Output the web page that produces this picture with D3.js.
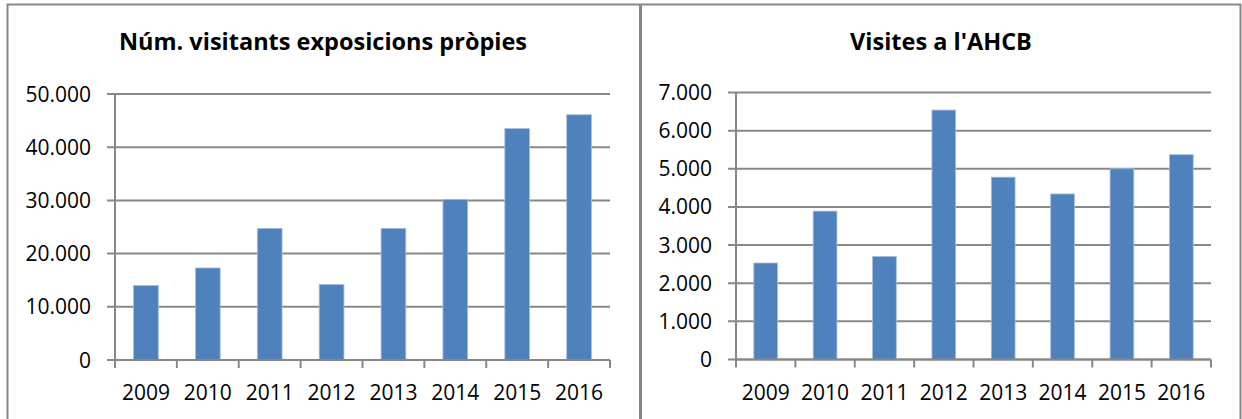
<!DOCTYPE html>
<html>
<head>
<meta charset="utf-8">
<script src="https://cdn.jsdelivr.net/npm/d3@7"></script>
<style>
  html, body { margin: 0; padding: 0; background: #fff; }
  svg { display: block; }
  text { font-family: "Open Sans", "Liberation Sans", sans-serif; fill: #000; }
</style>
</head>
<body>
<svg id="chart" width="1242" height="419"></svg>
<script>
// =====================================================
// Data
// =====================================================
const years           = ["2009", "2010", "2011", "2012", "2013", "2014", "2015", "2016"];
const visitantsExpo   = [14000, 17300, 24750, 14200, 24750, 30200, 43500, 46100];
const visitesAHCB     = [2530, 3890, 2700, 6540, 4780, 4340, 5000, 5370];
const ticksExpo       = [0, 10000, 20000, 30000, 40000, 50000];
const ticksAHCB       = [0, 1000, 2000, 3000, 4000, 5000, 6000, 7000];
const titleExpo       = "Núm. visitants exposicions pròpies";
const titleAHCB       = "Visites a l'AHCB";

const locale  = d3.formatLocale({ decimal: ",", thousands: ".", grouping: [3], currency: ["", "€"] });
const fmt     = locale.format(",d");
const gray    = "#878787";
const barBlue = "#4f81bd";

const svg = d3.select("#chart");

// ----------
// Frames
// =================
svg.append("path")
  .attr("d", "M7.5,419 V4.5 H1240.5 V419")
  .attr("fill", "none")
  .attr("stroke", gray)
  .attr("stroke-width", 2);
svg.append("line")
  .attr("x1", 640.5).attr("x2", 640.5).attr("y1", 4).attr("y2", 419)
  .attr("stroke", gray).attr("stroke-width", 3);

// =====================================================
// Draw one chart
// =====================================================
function drawChart(opt) {
  const { left, right, top, bottom, values, ticks, title, titleX } = opt;

  const x = d3.scaleBand()
    .domain(years)
    .range([left, right])
    .paddingInner(0.6)
    .paddingOuter(0.3);

  const y = d3.scaleLinear()
    .domain([0, d3.max(ticks)])
    .range([bottom, top]);

  const g = svg.append("g");

  // gridlines
  g.selectAll(".grid")
    .data(ticks)
    .enter()
    .append("line")
    .attr("x1", left - 8)
    .attr("x2", right)
    .attr("y1", d => y(d))
    .attr("y2", d => y(d))
    .attr("stroke", gray)
    .attr("stroke-width", 2);

  // y tick labels
  g.selectAll(".ylab")
    .data(ticks)
    .enter()
    .append("text")
    .attr("x", left - 24)
    .attr("y", d => y(d))
    .attr("dy", "0.36em")
    .attr("text-anchor", "end")
    .style("font-size", "21px")
    .text(d => fmt(d));

  // bars
  g.selectAll(".bar")
    .data(values)
    .enter()
    .append("rect")
    .attr("x", (d, i) => x(years[i]))
    .attr("width", x.bandwidth())
    .attr("y", d => y(d))
    .attr("height", d => y(0) - y(d))
    .attr("fill", barBlue)
    .attr("stroke", "#a7bfde")
    .attr("stroke-width", 0.8);

  // y axis line
  g.append("line")
    .attr("x1", left).attr("x2", left)
    .attr("y1", top).attr("y2", bottom)
    .attr("stroke", gray).attr("stroke-width", 2);

  // x axis line + ticks at band edges
  g.append("line")
    .attr("x1", left).attr("x2", right)
    .attr("y1", bottom).attr("y2", bottom)
    .attr("stroke", gray).attr("stroke-width", 2);
  const step = (right - left) / years.length;
  g.selectAll(".xtick")
    .data(d3.range(years.length + 1))
    .enter()
    .append("line")
    .attr("x1", i => left + i * step)
    .attr("x2", i => left + i * step)
    .attr("y1", bottom)
    .attr("y2", bottom + 8)
    .attr("stroke", gray).attr("stroke-width", 2);

  // x labels
  g.selectAll(".xlab")
    .data(years)
    .enter()
    .append("text")
    .attr("x", d => x(d) + x.bandwidth() / 2)
    .attr("y", bottom + 40)
    .attr("text-anchor", "middle")
    .style("font-size", "21px")
    .text(d => d);

  // title
  g.append("text")
    .attr("x", titleX)
    .attr("y", 50)
    .attr("text-anchor", "middle")
    .style("font-size", "23.5px")
    .style("font-weight", "bold")
    .text(title);
}

drawChart({ left: 115, right: 610, top: 94, bottom: 360, values: visitantsExpo, ticks: ticksExpo, title: titleExpo, titleX: 323 });
drawChart({ left: 736, right: 1211, top: 92.5, bottom: 359.5, values: visitesAHCB, ticks: ticksAHCB, title: titleAHCB, titleX: 941 });
</script>
</body>
</html>
